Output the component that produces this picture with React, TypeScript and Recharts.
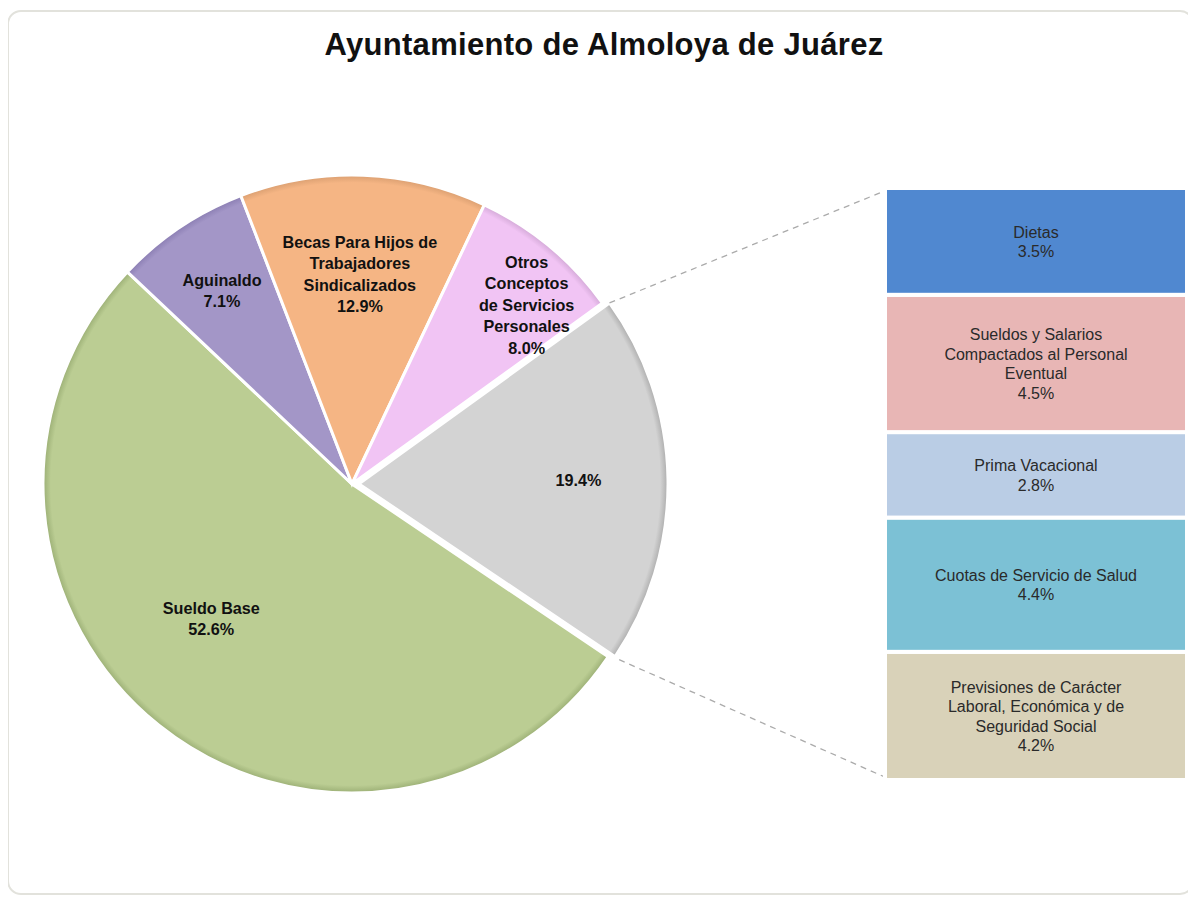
import { PieChart, Pie, Cell, BarChart, Bar, XAxis, YAxis } from "recharts";

// pie slices, clockwise from the lower-right edge
const pieNames = [
  "Sueldo Base",
  "Aguinaldo",
  "Becas Para Hijos de\nTrabajadores\nSindicalizados",
  "Otros\nConceptos\nde Servicios\nPersonales",
  "",
];
const pieValues = [52.6, 7.1, 12.9, 8.0, 19.4];
const pieColors = ["#BBCD93", "#A396C7", "#F5B584", "#F1C4F4", "#D3D3D3"];
const pieRims = ["#9AAE74", "#8A7DB2", "#D99E70", "#D2A8D6", "#ABABAB"];

// bar of pie, top to bottom
const barNames = [
  "Dietas",
  "Sueldos y Salarios\nCompactados al Personal\nEventual",
  "Prima Vacacional",
  "Cuotas de Servicio de Salud",
  "Previsiones de Carácter\nLaboral, Económica y de\nSeguridad Social",
];
const barValues = [3.5, 4.5, 2.8, 4.4, 4.2];
const barColors = ["#5088D0", "#E8B6B5", "#BACDE5", "#7CC1D5", "#D9D2B9"];

const title = "Ayuntamiento de Almoloya de Juárez";

const RADIAN = Math.PI / 180;
const FONT = "'Liberation Sans', Arial, sans-serif";
const W = 1180;
const H = 888;
const CX = 344;
const CY = 476;
const R = 309;
const START = -34;
const EXPLODE = 7;
const OTHER = 4; // index of the slice broken out into the bar

// label placement tweaks (fraction of radius, angle shift)
const labelRadius = [0.63, 0.755, 0.68, 0.81, 0.71];
const labelShift = [-7.6, 0, 0, -4.5, 0];

const BAR_BOX = { left: 867, top: 170, width: 314, height: 612 };
const BAR_MARGIN = { top: 10, right: 2, bottom: 10, left: 10 };
const GAP = 4;

const total = pieValues.reduce((a, b) => a + b, 0);
const pieData = pieNames.map((name, i) => ({ name, value: pieValues[i] }));
const before = pieValues.slice(0, OTHER).reduce((a, b) => a + b, 0);
const otherMid = START - (360 * (before + pieValues[OTHER] / 2)) / total;
const gx = CX + EXPLODE * Math.cos(otherMid * RADIAN);
const gy = CY - EXPLODE * Math.sin(otherMid * RADIAN);

const barTotal = barValues.reduce((a, b) => a + b, 0);
const barRow: Record<string, number | string> = { name: "otros" };
barValues.forEach((v, i) => (barRow[`s${i}`] = v));

const barLeft = BAR_BOX.left + BAR_MARGIN.left + GAP / 2;
const barTop = BAR_BOX.top + BAR_MARGIN.top + GAP / 2;
const barBottom = BAR_BOX.top + BAR_BOX.height - BAR_MARGIN.bottom - GAP / 2;

function polar(cx: number, cy: number, r: number, a: number) {
  return { x: cx + r * Math.cos(-a * RADIAN), y: cy + r * Math.sin(-a * RADIAN) };
}

function PieText({ x, y, lines }: { x: number; y: number; lines: string[] }) {
  const lh = 21.5;
  const y0 = y - ((lines.length - 1) * lh) / 2;
  return (
    <text
      x={x}
      y={y0}
      textAnchor="middle"
      dominantBaseline="central"
      fontFamily={FONT}
      fontWeight="bold"
      fontSize={16.2}
      fill="#111"
    >
      {lines.map((l, k) => (
        <tspan key={k} x={x} y={y0 + k * lh}>
          {l}
        </tspan>
      ))}
    </text>
  );
}

const renderPieLabel = (p: any) => {
  const i = p.index;
  if (i === OTHER) return <g />;
  const lines = [...pieNames[i].split("\n"), `${pieValues[i].toFixed(1)}%`];
  const pt = polar(p.cx, p.cy, p.outerRadius * labelRadius[i], p.midAngle + labelShift[i]);
  return <PieText key={`pl-${i}`} x={pt.x} y={pt.y} lines={lines} />;
};

const renderOtherLabel = (p: any) => {
  const i = p.index;
  if (i !== OTHER) return <g />;
  const pt = polar(p.cx, p.cy, p.outerRadius * labelRadius[i], p.midAngle + labelShift[i]);
  // connectors from the broken-out slice to the bar
  const a = polar(p.cx, p.cy, p.outerRadius, Math.max(p.startAngle, p.endAngle));
  const b = polar(p.cx, p.cy, p.outerRadius, Math.min(p.startAngle, p.endAngle));
  return (
    <g key="other-label">
      <line x1={a.x} y1={a.y} x2={barLeft} y2={barTop} stroke="#ABABAB" strokeWidth={1.3} strokeDasharray="6 5" />
      <line x1={b.x + 4} y1={b.y + 3} x2={barLeft} y2={barBottom} stroke="#ABABAB" strokeWidth={1.3} strokeDasharray="6 5" />
      <PieText x={pt.x} y={pt.y} lines={[`${pieValues[i].toFixed(1)}%`]} />
    </g>
  );
};

const barShape = (i: number) => (p: any) => {
  const { x, y, width, height } = p;
  const lines = [...barNames[i].split("\n"), `${barValues[i].toFixed(1)}%`];
  const lh = 19.5;
  const cx = x + width / 2;
  const y0 = y + height / 2 - ((lines.length - 1) * lh) / 2;
  return (
    <g>
      <rect x={x} y={y} width={width} height={height} fill={barColors[i]} stroke="#fff" strokeWidth={GAP} />
      <text textAnchor="middle" dominantBaseline="central" fontFamily={FONT} fontSize={16} fill="#2a2a2a">
        {lines.map((l, k) => (
          <tspan key={k} x={cx} y={y0 + k * lh}>
            {l}
          </tspan>
        ))}
      </text>
    </g>
  );
};

export default function App() {
  const order = barValues.map((_, i) => barValues.length - 1 - i); // bottom first
  return (
    <div style={{ position: "relative", width: W, height: H, fontFamily: FONT }}>
      <div
        style={{
          position: "absolute",
          left: -1,
          top: 2,
          width: 1183,
          height: 881,
          border: "2px solid #E2E2DC",
          borderRadius: 14,
          background: "#fff",
        }}
      />
      <div
        style={{
          position: "absolute",
          left: 6,
          top: 19,
          width: W,
          textAlign: "center",
          fontSize: 31,
          fontWeight: "bold",
          color: "#111",
          letterSpacing: 0.3,
        }}
      >
        {title}
      </div>
      <div style={{ position: "absolute", left: 0, top: 0 }}>
        <PieChart width={W} height={H} margin={{ top: 0, right: 0, bottom: 0, left: 0 }}>
          <defs>
            {pieColors.map((c, i) => (
              <radialGradient
                key={i}
                id={`rim-${i}`}
                gradientUnits="userSpaceOnUse"
                cx={i === OTHER ? gx : CX}
                cy={i === OTHER ? gy : CY}
                r={R}
              >
                <stop offset="0%" stopColor={c} />
                <stop offset="97.5%" stopColor={c} />
                <stop offset="100%" stopColor={pieRims[i]} />
              </radialGradient>
            ))}
          </defs>
          <Pie
            data={pieData}
            dataKey="value"
            nameKey="name"
            cx={CX}
            cy={CY}
            outerRadius={R}
            startAngle={START}
            endAngle={START - 360}
            stroke="#fff"
            strokeWidth={3}
            label={renderPieLabel}
            labelLine={false}
            isAnimationActive={false}
          >
            {pieData.map((_, i) => (
              <Cell
                key={i}
                fill={i === OTHER ? "none" : `url(#rim-${i})`}
                stroke={i === OTHER ? "none" : "#fff"}
              />
            ))}
          </Pie>
          <Pie
            data={pieData}
            dataKey="value"
            nameKey="name"
            cx={gx}
            cy={gy}
            outerRadius={R}
            startAngle={START}
            endAngle={START - 360}
            stroke="#fff"
            strokeWidth={3}
            label={renderOtherLabel}
            labelLine={false}
            isAnimationActive={false}
          >
            {pieData.map((_, i) => (
              <Cell
                key={i}
                fill={i === OTHER ? `url(#rim-${i})` : "none"}
                stroke={i === OTHER ? "#fff" : "none"}
              />
            ))}
          </Pie>
        </PieChart>
      </div>
      <div style={{ position: "absolute", left: BAR_BOX.left, top: BAR_BOX.top }}>
        <BarChart
          width={BAR_BOX.width}
          height={BAR_BOX.height}
          data={[barRow]}
          margin={BAR_MARGIN}
          barCategoryGap={0}
          barGap={0}
        >
          <XAxis dataKey="name" hide />
          <YAxis type="number" hide domain={[0, barTotal]} />
          {order.map((i) => (
            <Bar
              key={i}
              dataKey={`s${i}`}
              stackId="otros"
              fill={barColors[i]}
              shape={barShape(i)}
              isAnimationActive={false}
            />
          ))}
        </BarChart>
      </div>
    </div>
  );
}
